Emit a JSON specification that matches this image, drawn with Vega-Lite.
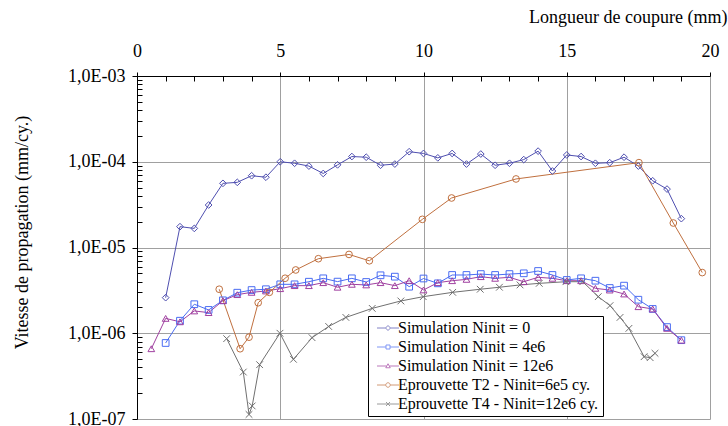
{
  "$schema": "https://vega.github.io/schema/vega-lite/v6.json",
  "width": 573,
  "height": 343,
  "autosize": {"type": "none"},
  "padding": {"left": 137, "top": 76, "right": 18, "bottom": 7},
  "background": "white",
  "config": {
    "view": {"stroke": "#a0a0a0", "strokeWidth": 1},
    "font": "Liberation Serif"
  },
  "data": {
    "values": [
      {"s": "S0", "x": 1, "y": 2.6e-6}, {"s": "S0", "x": 1.5, "y": 1.75e-5}, {"s": "S0", "x": 2, "y": 1.67e-5}, {"s": "S0", "x": 2.5, "y": 3.13e-5},
      {"s": "S0", "x": 3, "y": 5.6e-5}, {"s": "S0", "x": 3.5, "y": 5.75e-5}, {"s": "S0", "x": 4, "y": 6.87e-5}, {"s": "S0", "x": 4.5, "y": 6.6e-5},
      {"s": "S0", "x": 5, "y": 1.0e-4}, {"s": "S0", "x": 5.5, "y": 9.6e-5}, {"s": "S0", "x": 6, "y": 8.9e-5}, {"s": "S0", "x": 6.5, "y": 7.3e-5},
      {"s": "S0", "x": 7, "y": 9.2e-5}, {"s": "S0", "x": 7.5, "y": 1.15e-4}, {"s": "S0", "x": 8, "y": 1.13e-4}, {"s": "S0", "x": 8.5, "y": 9.1e-5},
      {"s": "S0", "x": 9, "y": 9.4e-5}, {"s": "S0", "x": 9.5, "y": 1.31e-4}, {"s": "S0", "x": 10, "y": 1.25e-4}, {"s": "S0", "x": 10.5, "y": 1.11e-4},
      {"s": "S0", "x": 11, "y": 1.25e-4}, {"s": "S0", "x": 11.5, "y": 9.4e-5}, {"s": "S0", "x": 12, "y": 1.23e-4}, {"s": "S0", "x": 12.5, "y": 9.1e-5},
      {"s": "S0", "x": 13, "y": 9.6e-5}, {"s": "S0", "x": 13.5, "y": 1.06e-4}, {"s": "S0", "x": 14, "y": 1.33e-4}, {"s": "S0", "x": 14.5, "y": 7.8e-5},
      {"s": "S0", "x": 15, "y": 1.2e-4}, {"s": "S0", "x": 15.5, "y": 1.15e-4}, {"s": "S0", "x": 16, "y": 9.6e-5}, {"s": "S0", "x": 16.5, "y": 9.75e-5},
      {"s": "S0", "x": 17, "y": 1.13e-4}, {"s": "S0", "x": 17.5, "y": 8.9e-5}, {"s": "S0", "x": 18, "y": 6.0e-5}, {"s": "S0", "x": 18.5, "y": 4.8e-5},
      {"s": "S0", "x": 19, "y": 2.17e-5},
      {"s": "S4", "x": 1, "y": 7.7e-7}, {"s": "S4", "x": 1.5, "y": 1.4e-6}, {"s": "S4", "x": 2, "y": 2.18e-6}, {"s": "S4", "x": 2.5, "y": 1.87e-6},
      {"s": "S4", "x": 3, "y": 2.42e-6}, {"s": "S4", "x": 3.5, "y": 2.97e-6}, {"s": "S4", "x": 4, "y": 3.19e-6}, {"s": "S4", "x": 4.5, "y": 3.26e-6},
      {"s": "S4", "x": 5, "y": 3.72e-6}, {"s": "S4", "x": 5.5, "y": 3.72e-6}, {"s": "S4", "x": 6, "y": 3.99e-6}, {"s": "S4", "x": 6.5, "y": 4.37e-6},
      {"s": "S4", "x": 7, "y": 4.0e-6}, {"s": "S4", "x": 7.5, "y": 4.37e-6}, {"s": "S4", "x": 8, "y": 3.96e-6}, {"s": "S4", "x": 8.5, "y": 4.74e-6},
      {"s": "S4", "x": 9, "y": 4.57e-6}, {"s": "S4", "x": 9.5, "y": 3.49e-6}, {"s": "S4", "x": 10, "y": 4.35e-6}, {"s": "S4", "x": 10.5, "y": 3.82e-6},
      {"s": "S4", "x": 11, "y": 4.78e-6}, {"s": "S4", "x": 11.5, "y": 4.78e-6}, {"s": "S4", "x": 12, "y": 4.9e-6}, {"s": "S4", "x": 12.5, "y": 4.78e-6},
      {"s": "S4", "x": 13, "y": 4.9e-6}, {"s": "S4", "x": 13.5, "y": 5.0e-6}, {"s": "S4", "x": 14, "y": 5.32e-6}, {"s": "S4", "x": 14.5, "y": 4.78e-6},
      {"s": "S4", "x": 15, "y": 4.18e-6}, {"s": "S4", "x": 15.5, "y": 4.37e-6}, {"s": "S4", "x": 16, "y": 4.1e-6}, {"s": "S4", "x": 16.5, "y": 3.37e-6},
      {"s": "S4", "x": 17, "y": 3.59e-6}, {"s": "S4", "x": 17.5, "y": 2.46e-6}, {"s": "S4", "x": 18, "y": 1.92e-6}, {"s": "S4", "x": 18.5, "y": 1.18e-6},
      {"s": "S4", "x": 19, "y": 8.3e-7},
      {"s": "S12", "x": 0.5, "y": 6.6e-7}, {"s": "S12", "x": 1, "y": 1.49e-6}, {"s": "S12", "x": 1.5, "y": 1.36e-6}, {"s": "S12", "x": 2, "y": 1.82e-6},
      {"s": "S12", "x": 2.5, "y": 1.74e-6}, {"s": "S12", "x": 3, "y": 2.4e-6}, {"s": "S12", "x": 3.5, "y": 2.82e-6}, {"s": "S12", "x": 4, "y": 3.0e-6},
      {"s": "S12", "x": 4.5, "y": 3.11e-6}, {"s": "S12", "x": 5, "y": 3.31e-6}, {"s": "S12", "x": 5.5, "y": 3.59e-6}, {"s": "S12", "x": 6, "y": 3.59e-6},
      {"s": "S12", "x": 6.5, "y": 3.89e-6}, {"s": "S12", "x": 7, "y": 3.44e-6}, {"s": "S12", "x": 7.5, "y": 3.72e-6}, {"s": "S12", "x": 8, "y": 3.66e-6},
      {"s": "S12", "x": 8.5, "y": 3.89e-6}, {"s": "S12", "x": 9, "y": 3.59e-6}, {"s": "S12", "x": 9.5, "y": 4.1e-6}, {"s": "S12", "x": 10, "y": 3.2e-6},
      {"s": "S12", "x": 10.5, "y": 3.89e-6}, {"s": "S12", "x": 11, "y": 4.1e-6}, {"s": "S12", "x": 11.5, "y": 4.25e-6}, {"s": "S12", "x": 12, "y": 4.57e-6},
      {"s": "S12", "x": 12.5, "y": 4.37e-6}, {"s": "S12", "x": 13, "y": 4.49e-6}, {"s": "S12", "x": 13.5, "y": 3.99e-6}, {"s": "S12", "x": 14, "y": 4.49e-6},
      {"s": "S12", "x": 14.5, "y": 4.37e-6}, {"s": "S12", "x": 15, "y": 4.1e-6}, {"s": "S12", "x": 15.5, "y": 4.1e-6}, {"s": "S12", "x": 16, "y": 3.34e-6},
      {"s": "S12", "x": 16.5, "y": 3.19e-6}, {"s": "S12", "x": 17, "y": 2.87e-6}, {"s": "S12", "x": 17.5, "y": 2.04e-6}, {"s": "S12", "x": 18, "y": 1.92e-6},
      {"s": "S12", "x": 18.5, "y": 1.14e-6}, {"s": "S12", "x": 19, "y": 8.3e-7},
      {"s": "T2", "x": 2.87, "y": 3.26e-6}, {"s": "T2", "x": 3.6, "y": 6.6e-7}, {"s": "T2", "x": 3.91, "y": 9.0e-7}, {"s": "T2", "x": 4.23, "y": 2.27e-6},
      {"s": "T2", "x": 4.62, "y": 3.0e-6}, {"s": "T2", "x": 5.17, "y": 4.38e-6}, {"s": "T2", "x": 5.54, "y": 5.47e-6}, {"s": "T2", "x": 6.33, "y": 7.4e-6},
      {"s": "T2", "x": 7.4, "y": 8.3e-6}, {"s": "T2", "x": 8.11, "y": 7.0e-6}, {"s": "T2", "x": 9.96, "y": 2.13e-5}, {"s": "T2", "x": 10.98, "y": 3.78e-5},
      {"s": "T2", "x": 13.23, "y": 6.3e-5}, {"s": "T2", "x": 17.52, "y": 9.76e-5}, {"s": "T2", "x": 18.72, "y": 1.93e-5}, {"s": "T2", "x": 19.73, "y": 5.1e-6},
      {"s": "T4", "x": 3.13, "y": 8.65e-7}, {"s": "T4", "x": 3.71, "y": 3.53e-7}, {"s": "T4", "x": 3.91, "y": 1.13e-7}, {"s": "T4", "x": 4.02, "y": 1.42e-7},
      {"s": "T4", "x": 4.28, "y": 4.3e-7}, {"s": "T4", "x": 4.99, "y": 1.0e-6}, {"s": "T4", "x": 5.46, "y": 4.97e-7}, {"s": "T4", "x": 6.11, "y": 8.88e-7},
      {"s": "T4", "x": 6.69, "y": 1.2e-6}, {"s": "T4", "x": 7.29, "y": 1.53e-6}, {"s": "T4", "x": 8.21, "y": 1.95e-6}, {"s": "T4", "x": 9.21, "y": 2.38e-6},
      {"s": "T4", "x": 9.99, "y": 2.67e-6}, {"s": "T4", "x": 11.02, "y": 3.0e-6}, {"s": "T4", "x": 11.98, "y": 3.26e-6}, {"s": "T4", "x": 12.65, "y": 3.44e-6},
      {"s": "T4", "x": 13.37, "y": 3.66e-6}, {"s": "T4", "x": 14.04, "y": 3.82e-6}, {"s": "T4", "x": 14.97, "y": 3.99e-6}, {"s": "T4", "x": 15.56, "y": 3.99e-6},
      {"s": "T4", "x": 16.1, "y": 2.67e-6}, {"s": "T4", "x": 16.51, "y": 2.1e-6}, {"s": "T4", "x": 16.86, "y": 1.53e-6}, {"s": "T4", "x": 17.17, "y": 1.14e-6},
      {"s": "T4", "x": 17.7, "y": 5.33e-7}, {"s": "T4", "x": 17.91, "y": 5.19e-7}, {"s": "T4", "x": 18.08, "y": 5.84e-7}
    ]
  },
  "encoding": {
    "x": {
      "field": "x", "type": "quantitative",
      "scale": {"domain": [0, 20], "nice": false, "zero": false},
      "axis": {
        "orient": "top",
        "title": "Longueur de coupure (mm)",
        "titleFont": "Liberation Serif", "titleFontSize": 18, "titleFontWeight": "normal", "titleColor": "#000000",
        "titleAnchor": "end", "titleAlign": "right", "titleX": 590, "titleY": -59, "titleBaseline": "middle",
        "values": [0,1,2,3,4,5,6,7,8,9,10,11,12,13,14,15,16,17,18,19,20],
        "labelExpr": "datum.value % 5 === 0 ? datum.label : ''",
        "labelFont": "Liberation Serif", "labelFontSize": 18, "labelColor": "#000000",
        "labelPadding": 12, "labelFlush": false, "labelOverlap": false,
        "domainColor": "#000000", "domainWidth": 1,
        "tickColor": "#000000",
        "tickSize": {"condition": {"test": "datum.value % 5 === 0", "value": 4}, "value": -5},
        "grid": true, "gridColor": "#a0a0a0", "gridWidth": 1,
        "gridOpacity": {"condition": {"test": "datum.value % 5 === 0 && datum.value > 0 && datum.value < 20", "value": 1}, "value": 0}
      }
    },
    "y": {
      "field": "y", "type": "quantitative",
      "scale": {"type": "log", "domain": [1e-7, 1e-3], "nice": false},
      "axis": {
        "orient": "left",
        "title": "Vitesse de propagation (mm/cy.)",
        "titleFont": "Liberation Serif", "titleFontSize": 18, "titleFontWeight": "normal", "titleColor": "#000000",
        "titleX": -115, "titleY": 156, "titleAngle": -90, "titleBaseline": "middle", "titleAlign": "center",
        "values": [1e-7,2e-7,3e-7,4e-7,5e-7,6e-7,7e-7,8e-7,9e-7,1e-6,2e-6,3e-6,4e-6,5e-6,6e-6,7e-6,8e-6,9e-6,1e-5,2e-5,3e-5,4e-5,5e-5,6e-5,7e-5,8e-5,9e-5,1e-4,2e-4,3e-4,4e-4,5e-4,6e-4,7e-4,8e-4,9e-4,1e-3],
        "labelExpr": "abs(log(datum.value)/LN10 - round(log(datum.value)/LN10)) < 1e-6 ? '1,0E-0' + round(-log(datum.value)/LN10) : ''",
        "labelFont": "Liberation Serif", "labelFontSize": 18, "labelColor": "#000000",
        "labelPadding": 7, "labelFlush": false, "labelOverlap": false, "labelBaseline": "middle",
        "domainColor": "#000000", "domainWidth": 1,
        "tickColor": "#000000",
        "tickSize": {"condition": {"test": "abs(log(datum.value)/LN10 - round(log(datum.value)/LN10)) < 1e-6", "value": 5}, "value": -5},
        "grid": true, "gridColor": "#a0a0a0", "gridWidth": 1,
        "gridOpacity": {"condition": {"test": "abs(log(datum.value)/LN10 - round(log(datum.value)/LN10)) < 1e-6 && datum.value > 1.5e-7 && datum.value < 5e-4", "value": 1}, "value": 0}
      }
    }
  },
  "layer": [
    {
      "mark": {"type": "line", "strokeWidth": 1},
      "encoding": {
        "color": {"field": "s", "type": "nominal",
          "scale": {"domain": ["S0", "S4", "S12", "T2", "T4"], "range": ["#4f4fb0", "#4a6cf2", "#a040a0", "#c0703f", "#707070"]},
          "legend": null}
      }
    },
    {
      "mark": {"type": "point", "filled": false, "strokeWidth": 1, "size": 45, "opacity": 1},
      "encoding": {
        "color": {"field": "s", "type": "nominal", "legend": null},
        "shape": {"field": "s", "type": "nominal",
          "scale": {"domain": ["S0", "S4", "S12", "T2", "T4"], "range": ["diamond", "square", "triangle-up", "circle", "M-1,-1L1,1M-1,1L1,-1"]},
          "legend": null}
      }
    },
    {
      "transform": [{"filter": "datum.x < -100"}],
      "mark": {"type": "point", "filled": false, "strokeWidth": 1},
      "encoding": {
        "color": {"field": "s", "type": "nominal",
          "legend": {
            "orient": "none", "legendX": 231, "legendY": 240, "title": null,
            "strokeColor": "#000000", "fillColor": "#ffffff", "padding": 4,
            "labelFont": "Liberation Serif", "labelFontSize": 16, "labelColor": "#000000", "labelLimit": 0,
            "labelExpr": "datum.value === 'S0' ? 'Simulation Ninit = 0' : datum.value === 'S4' ? 'Simulation Ninit = 4e6' : datum.value === 'S12' ? 'Simulation Ninit = 12e6' : datum.value === 'T2' ? 'Eprouvette T2 - Ninit=6e5 cy.' : 'Eprouvette T4 - Ninit=12e6 cy.'",
            "symbolSize": 25, "symbolStrokeWidth": 1, "labelOffset": 2, "rowPadding": 3, "symbolOffset": 8
          }},
        "shape": {"field": "s", "type": "nominal",
          "scale": {"domain": ["S0", "S4", "S12", "T2", "T4"], "range": [
            "M-4.4,0L-1,0M1,0L4.4,0M0,-1L1,0L0,1L-1,0Z",
            "M-4.4,0L-0.8,0M0.8,0L4.4,0M-0.8,-0.8L0.8,-0.8L0.8,0.8L-0.8,0.8Z",
            "M-4.4,0L-0.6,0M0.6,0L4.4,0M0,-0.9L0.9,0.7L-0.9,0.7Z",
            "M-4.4,0L-0.9,0M0.9,0L4.4,0M0.9,0A0.9,0.9,0,1,1,-0.9,0A0.9,0.9,0,1,1,0.9,0Z",
            "M-4.4,0L4.4,0M-0.8,-0.8L0.8,0.8M-0.8,0.8L0.8,-0.8"
          ]},
          "legend": {
            "orient": "none", "legendX": 231, "legendY": 240, "title": null,
            "strokeColor": "#000000", "fillColor": "#ffffff", "padding": 4,
            "labelFont": "Liberation Serif", "labelFontSize": 16, "labelColor": "#000000", "labelLimit": 0,
            "labelExpr": "datum.value === 'S0' ? 'Simulation Ninit = 0' : datum.value === 'S4' ? 'Simulation Ninit = 4e6' : datum.value === 'S12' ? 'Simulation Ninit = 12e6' : datum.value === 'T2' ? 'Eprouvette T2 - Ninit=6e5 cy.' : 'Eprouvette T4 - Ninit=12e6 cy.'",
            "symbolSize": 25, "symbolStrokeWidth": 1, "labelOffset": 2, "rowPadding": 3, "symbolOffset": 8
          }}
      }
    }
  ],
  "resolve": {"scale": {"shape": "independent"}, "legend": {"color": "independent", "shape": "independent"}}
}
